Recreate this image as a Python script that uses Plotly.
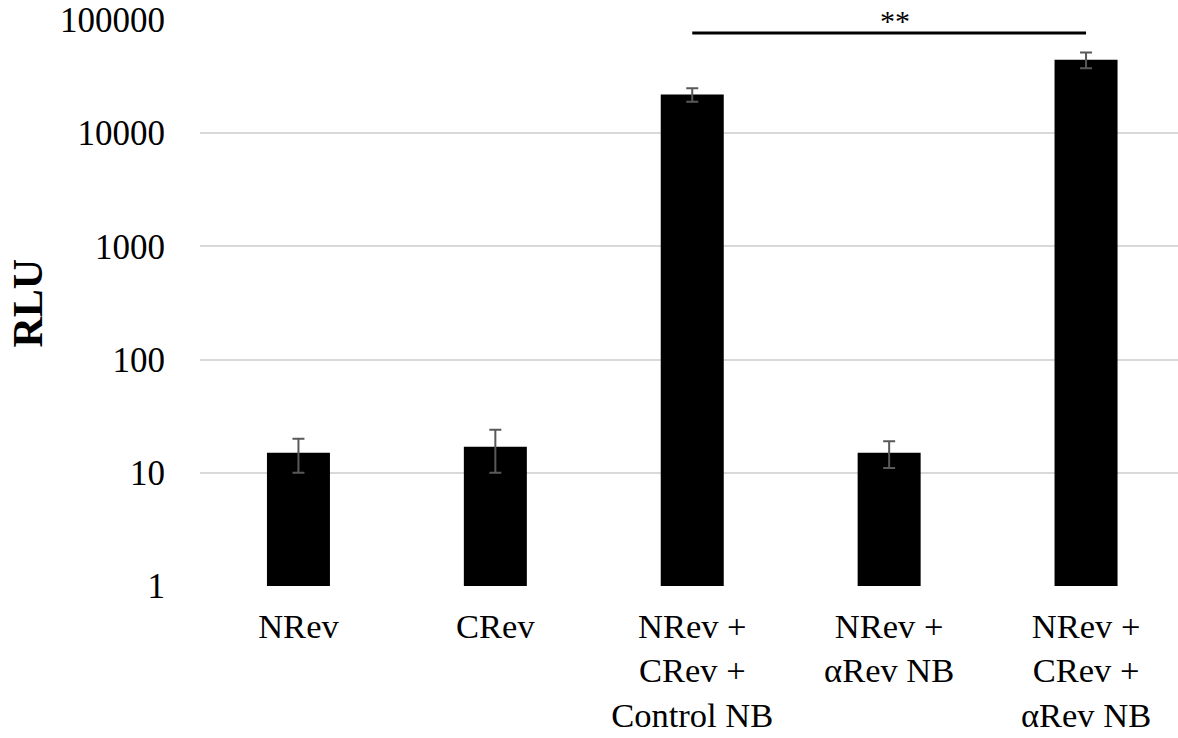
import plotly.graph_objects as go

# Luciferase readout per transfection condition
categories = [
    "NRev",
    "CRev",
    "NRev +<br>CRev +<br>Control NB",
    "NRev +<br>αRev NB",
    "NRev +<br>CRev +<br>αRev NB",
]
rlu_mean = [15, 17, 22000, 15, 44500]
rlu_err = [5, 7, 3000, 4, 7000]
y_tick_vals = [1, 10, 100, 1000, 10000, 100000]
y_tick_text = ["1", "10", "100", "1000", "10000", "100000"]

# significance comparison between two conditions
sig_pair = (2, 4)
sig_label = "**"

FONT = "Liberation Serif, Times New Roman, serif"
W, H = 1178, 738
M_L, M_R, M_T, M_B = 200, 0, 20, 152

fig = go.Figure()
fig.add_trace(go.Bar(
    x=list(range(len(categories))),
    y=rlu_mean,
    marker=dict(color="black", line=dict(width=0)),
    error_y=dict(type="data", array=rlu_err, visible=True,
                 color="#595959", thickness=2, width=6),
    width=0.32,
))

fig.update_layout(
    width=W, height=H,
    margin=dict(l=M_L, r=M_R, t=M_T, b=M_B, pad=0, autoexpand=False),
    plot_bgcolor="white", paper_bgcolor="white",
    showlegend=False,
    font=dict(family=FONT, size=35, color="black"),
    xaxis=dict(
        tickmode="array",
        tickvals=list(range(len(categories))),
        ticktext=categories,
        range=[-0.5, 4.467],
        showgrid=False, zeroline=False, showline=False,
        ticks="", ticklabelstandoff=16, automargin=False,
        tickfont=dict(family=FONT, size=34.5, color="black"),
    ),
    yaxis=dict(
        type="log",
        range=[0, 5],
        tickmode="array",
        tickvals=y_tick_vals,
        ticktext=y_tick_text,
        showgrid=True, gridcolor="#d9d9d9", gridwidth=2,
        zeroline=False, showline=False, ticks="",
        ticklabelstandoff=34, automargin=False,
        tickfont=dict(family=FONT, size=35, color="black"),
    ),
)

plot_w = W - M_L - M_R
fig.add_annotation(
    text="<b>RLU</b>", xref="paper", yref="paper",
    x=(27.5 - M_L) / plot_w, y=0.5, xanchor="center", yanchor="middle",
    textangle=-90, showarrow=False,
    font=dict(family=FONT, size=42, color="black"),
)

# significance bracket
plot_h = H - M_T - M_B
bar_y = 1 - (33 - M_T) / plot_h
fig.add_shape(
    type="line", xref="x", yref="paper",
    x0=sig_pair[0], x1=sig_pair[1], y0=bar_y, y1=bar_y,
    line=dict(color="black", width=3),
)
fig.add_annotation(
    text=sig_label, xref="x", yref="paper",
    x=(sig_pair[0] + sig_pair[1]) / 2, y=1,
    xshift=6, yshift=18,
    xanchor="center", yanchor="top", showarrow=False,
    font=dict(family=FONT, size=30, color="black"),
)

fig.write_html("out.html")
